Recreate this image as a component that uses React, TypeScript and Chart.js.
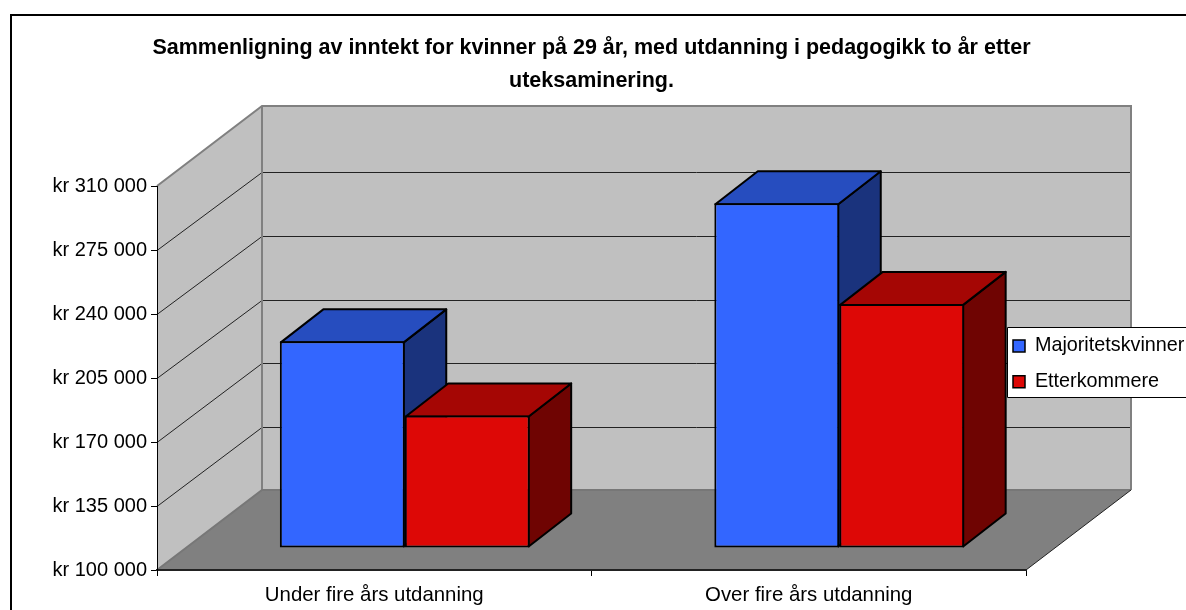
import React, { useEffect, useRef } from "react";
import { Chart, registerables } from "chart.js";

Chart.register(...registerables);

const categories = ["Under fire års utdanning", "Over fire års utdanning"];
const majoritetskvinner = [213000, 288500];
const etterkommere = [172500, 233500];
const titleLines = [
  "Sammenligning av inntekt for kvinner på 29 år, med utdanning i pedagogikk to år etter",
  "uteksaminering.",
];
const AXIS_MIN = 100000;
const AXIS_MAX = 310000;
const AXIS_STEP = 35000;
const FONT = "'Liberation Sans', Arial, sans-serif";

const WALL_DX = 105;
const WALL_DY = -80;
const BACK_GRID_SCALE = 0.994;
const BAR_DX = 30.5;
const BAR_DY = -22;
const BAR_DEPTH_X = 42.5;
const BAR_DEPTH_Y = -33;
const LEGEND_BOX = { left: 1007, top: 327, bottom: 398 };

const faces = [
  { top: "#264DBF", side: "#1A337D" },
  { top: "#A50604", side: "#6F0402" },
];

function poly(ctx: CanvasRenderingContext2D, pts: number[][], fill: string | null, stroke: string | null, lw = 1) {
  ctx.beginPath();
  pts.forEach((p, i) => (i ? ctx.lineTo(p[0], p[1]) : ctx.moveTo(p[0], p[1])));
  ctx.closePath();
  if (fill) {
    ctx.fillStyle = fill;
    ctx.fill();
  }
  if (stroke) {
    ctx.strokeStyle = stroke;
    ctx.lineWidth = lw;
    ctx.lineJoin = "round";
    ctx.stroke();
  }
}

const scene = {
  id: "scene",
  beforeDraw(chart: any) {
    const { ctx, chartArea: a, scales } = chart;
    const y = scales.y;
    ctx.save();
    ctx.fillStyle = "#fff";
    ctx.fillRect(0, 0, chart.width, chart.height);
    // outer frame
    ctx.strokeStyle = "#000";
    ctx.lineWidth = 2;
    ctx.strokeRect(11, 15, 1300, 800);
    const L = a.left, R = a.right, T = a.top, B = a.bottom;
    const bl = L + WALL_DX, br = R + WALL_DX, bt = T + WALL_DY, bb = B + WALL_DY;
    // walls
    poly(ctx, [[bl, bt], [br, bt], [br, bb], [bl, bb]], "#C0C0C0", null);
    poly(ctx, [[L, T], [bl, bt], [bl, bb], [L, B]], "#C0C0C0", null);
    // grid lines
    ctx.lineWidth = 1;
    ctx.strokeStyle = "#222";
    y.ticks.forEach((t: any) => {
      if (t.value === y.min || t.value === y.max) return;
      const p = Math.round(y.getPixelForValue(t.value)) + 0.5;
      const q = Math.round(bb - (B - p) * BACK_GRID_SCALE) + 0.5;
      ctx.beginPath();
      ctx.moveTo(L, p);
      ctx.lineTo(bl, q);
      ctx.lineTo(br, q);
      ctx.stroke();
    });
    // wall edges
    ctx.strokeStyle = "#808080";
    ctx.lineWidth = 2;
    ctx.beginPath();
    ctx.moveTo(L, T);
    ctx.lineTo(bl, bt);
    ctx.lineTo(br, bt);
    ctx.lineTo(br, bb);
    ctx.moveTo(bl, bt);
    ctx.lineTo(bl, bb);
    ctx.stroke();
    // floor
    poly(ctx, [[L, B], [R, B], [br, bb], [bl, bb]], "#808080", null);
    ctx.strokeStyle = "#777";
    ctx.lineWidth = 2;
    ctx.beginPath();
    ctx.moveTo(L, B);
    ctx.lineTo(bl, bb);
    ctx.lineTo(br, bb);
    ctx.stroke();
    ctx.strokeStyle = "#222";
    ctx.lineWidth = 1;
    ctx.beginPath();
    ctx.moveTo(R, B);
    ctx.lineTo(br, bb);
    ctx.stroke();
    // legend box
    const { left, top, bottom } = LEGEND_BOX;
    ctx.fillStyle = "#fff";
    ctx.fillRect(left, top, chart.width - left, bottom - top);
    ctx.strokeStyle = "#000";
    ctx.lineWidth = 1;
    ctx.beginPath();
    ctx.moveTo(chart.width, top + 0.5);
    ctx.lineTo(left + 0.5, top + 0.5);
    ctx.lineTo(left + 0.5, bottom - 0.5);
    ctx.lineTo(chart.width, bottom - 0.5);
    ctx.stroke();
    ctx.restore();
  },
  afterLayout(chart: any) {
    const lg = chart.legend;
    lg.left = 997;
    lg.right = 1186;
    lg.width = 189;
    lg.top = 320;
    lg.bottom = 610;
    lg.height = 290;
    chart.titleBlock.left = 0;
    chart.titleBlock.right = 1183;
  },
  beforeDatasetsDraw(chart: any) {
    const { ctx } = chart;
    ctx.save();
    ctx.translate(BAR_DX, BAR_DY);
    chart.data.datasets.forEach((_: any, d: number) => {
      chart.getDatasetMeta(d).data.forEach((bar: any) => {
        const l = bar.x - bar.width / 2, r = bar.x + bar.width / 2;
        const t = bar.y + 1, b = bar.base - 1;
        const x = BAR_DEPTH_X, dy = BAR_DEPTH_Y;
        poly(ctx, [[r - 1, t], [r - 1 + x, t + dy], [r - 1 + x, b + dy], [r - 1, b]], faces[d].side, "#000", 2);
        poly(ctx, [[l + 1, t], [l + 1 + x, t + dy], [r - 1 + x, t + dy], [r - 1, t]], faces[d].top, "#000", 2);
      });
    });
  },
  afterDatasetsDraw(chart: any) {
    chart.ctx.restore();
  },
};

export default function App() {
  const ref = useRef<HTMLCanvasElement>(null);
  useEffect(() => {
    const chart = new Chart(ref.current!, {
      type: "bar",
      data: {
        labels: categories,
        datasets: [
          { label: "Majoritetskvinner", data: majoritetskvinner, backgroundColor: "#3366FF" },
          { label: "Etterkommere", data: etterkommere, backgroundColor: "#DD0806" },
        ],
      },
      options: {
        responsive: false,
        animation: false,
        clip: false,
        layout: { padding: { left: 0, right: 160, top: 0, bottom: 0 } },
        datasets: {
          bar: {
            base: AXIS_MIN,
            categoryPercentage: 0.575,
            barPercentage: 1,
            borderColor: "#000",
            borderWidth: 2,
            borderSkipped: false,
          },
        },
        plugins: {
          tooltip: { enabled: false },
          title: {
            display: true,
            text: titleLines,
            color: "#000",
            font: { family: FONT, size: 21.5, weight: "bold", lineHeight: 33 / 21.5 },
            padding: { top: 32, bottom: 88 },
          },
          legend: {
            position: "chartArea",
            align: "start",
            labels: {
              color: "#000",
              font: { family: FONT, size: 19.8 },
              boxWidth: 12,
              boxHeight: 12,
              padding: 16,
              generateLabels: (chart: any) =>
                chart.data.datasets.map((ds: any, i: number) => ({
                  text: ds.label,
                  fillStyle: ds.backgroundColor,
                  strokeStyle: "#000",
                  lineWidth: 1.5,
                  datasetIndex: i,
                })),
            },
          },
        },
        scales: {
          x: {
            afterFit: (s: any) => {
              s.height = 40;
            },
            border: { color: "#222", width: 2 },
            grid: { offset: true, drawOnChartArea: false, color: "#000", tickLength: 6 },
            ticks: { color: "#000", font: { family: FONT, size: 20.4 }, maxRotation: 0, padding: 7 },
          },
          y: {
            min: AXIS_MIN,
            max: AXIS_MAX,
            afterFit: (s: any) => {
              s.width = 157;
            },
            border: { color: "#000", width: 1 },
            grid: { drawOnChartArea: false, color: "#000", tickLength: 6 },
            ticks: {
              stepSize: AXIS_STEP,
              color: "#000",
              padding: 4,
              font: { family: FONT, size: 20 },
              callback: (v: any) => "kr " + String(v).replace(/\B(?=(\d{3})+$)/g, " "),
            },
          },
        },
      },
      plugins: [scene],
    } as any);
    return () => chart.destroy();
  }, []);
  return (
    <div style={{ position: "absolute", left: 0, top: 0 }}>
      <canvas ref={ref} width={1186} height={610} style={{ display: "block" }} />
    </div>
  );
}
